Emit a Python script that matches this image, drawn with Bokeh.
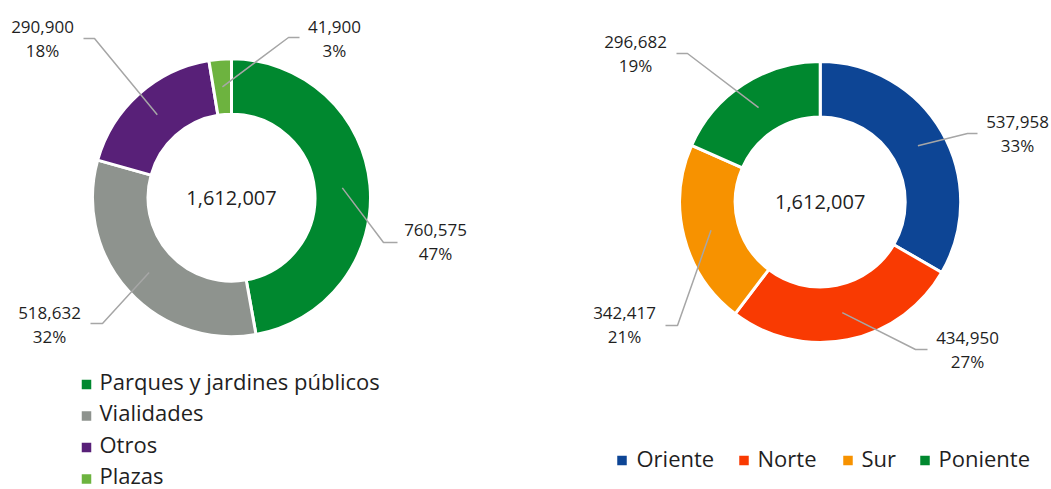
import math
from bokeh.plotting import figure
from bokeh.models import Range1d, ColumnDataSource
from bokeh.core.properties import value
from bokeh.embed import file_html
from bokeh.resources import INLINE

# ---- data ----
uso_cats = ["Parques y jardines públicos", "Vialidades", "Otros", "Plazas"]
uso_vals = [760575, 518632, 290900, 41900]
uso_pcts = ["47%", "32%", "18%", "3%"]
uso_colors = ["#00882F", "#8E938E", "#582078", "#6DB33F"]

zona_cats = ["Oriente", "Norte", "Sur", "Poniente"]
zona_vals = [537958, 434950, 342417, 296682]
zona_pcts = ["33%", "27%", "21%", "19%"]
zona_colors = ["#0D4595", "#F93A02", "#F79200", "#00882F"]

FONT = value("Open Sans")
TXT = "#1F1F1F"
LEADER = "#A6A6A6"

W, H = 1051, 489


def X(px):
    return px


def Y(py):
    return H - py


p = figure(width=W, height=H, x_range=Range1d(0, W), y_range=Range1d(0, H),
           x_axis_location=None, y_axis_location=None, toolbar_location=None,
           output_backend="svg", min_border=0, outline_line_color=None)
p.xgrid.visible = False
p.ygrid.visible = False
p.background_fill_color = "white"
p.border_fill_color = "white"


def donut(cx, cy, r_in, r_out, vals, colors, pcts, label_pos, elbows, ends):
    total = sum(vals)
    cum = 0
    a_start, a_end, mids = [], [], []
    for v in vals:
        a0 = math.pi / 2 - 2 * math.pi * cum / total
        cum += v
        a1 = math.pi / 2 - 2 * math.pi * cum / total
        a_start.append(a0)
        a_end.append(a1)
        mids.append((a0 + a1) / 2)
    src = ColumnDataSource(dict(start=a_start, end=a_end, color=colors))
    p.annular_wedge(x=X(cx), y=Y(cy), inner_radius=r_in, outer_radius=r_out,
                    start_angle="start", end_angle="end", direction="clock",
                    fill_color="color", line_color="white", line_width=3,
                    source=src)
    rm = (r_in + r_out) / 2
    xs, ys = [], []
    for m, e, en in zip(mids, elbows, ends):
        sx = X(cx) + rm * math.cos(m)
        sy = Y(cy) + rm * math.sin(m)
        xs.append([sx, X(e[0]), X(en)])
        ys.append([sy, Y(e[1]), Y(e[1])])
    p.multi_line(xs=xs, ys=ys, line_color=LEADER, line_width=1.5)
    vx = [X(lp[0]) for lp in label_pos]
    vy = [Y(lp[1]) for lp in label_pos]
    py_ = [Y(lp[1] + 24) for lp in label_pos]
    p.text(x=vx, y=vy, text=[f"{v:,}" for v in vals], text_font=FONT,
           text_font_size="17px", text_align="center", text_baseline="middle",
           text_color=TXT)
    p.text(x=vx, y=py_, text=pcts, text_font=FONT,
           text_font_size="17px", text_align="center", text_baseline="middle",
           text_color=TXT)
    p.text(x=[X(cx)], y=[Y(cy)], text=[f"{total:,}"], text_font=FONT,
           text_font_size="20px", text_align="center", text_baseline="middle",
           text_color=TXT)


donut(231, 197.2, 83.5, 139, uso_vals, uso_colors, uso_pcts,
      label_pos=[(435, 229), (49, 312), (42, 26), (334, 26)],
      elbows=[(383, 242), (102, 323), (94, 38), (288, 37)],
      ends=[397, 90, 83, 299])

donut(819.7, 201.5, 85, 140.5, zona_vals, zona_colors, zona_pcts,
      label_pos=[(1017, 121), (967, 337), (624, 312), (635, 41)],
      elbows=[(967, 133), (915, 349), (677, 325), (687, 53)],
      ends=[977, 927, 665, 676])

# ---- left legend (vertical) ----
lc = [380, 411.5, 443, 474.5]
p.scatter(x=[X(86)] * 4, y=[Y(c + 4) for c in lc], marker="square", size=9.5,
          fill_color=uso_colors, line_color=None)
p.text(x=[X(99)] * 4, y=[Y(c) for c in lc], text=uso_cats, text_font=FONT,
       text_font_size="22px", text_align="left", text_baseline="middle",
       text_color=TXT)

# ---- right legend (horizontal) ----
sq_x = [621.5, 743.5, 847.5, 924.5]
tx_x = [636, 757, 861, 938]
p.scatter(x=[X(s) for s in sq_x], y=[Y(460)] * 4, marker="square", size=9.5,
          fill_color=zona_colors, line_color=None)
p.text(x=[X(t) for t in tx_x], y=[Y(457)] * 4, text=zona_cats, text_font=FONT,
       text_font_size="22px", text_align="left", text_baseline="middle",
       text_color=TXT)

open("out.html", "w").write(file_html(p, INLINE))
